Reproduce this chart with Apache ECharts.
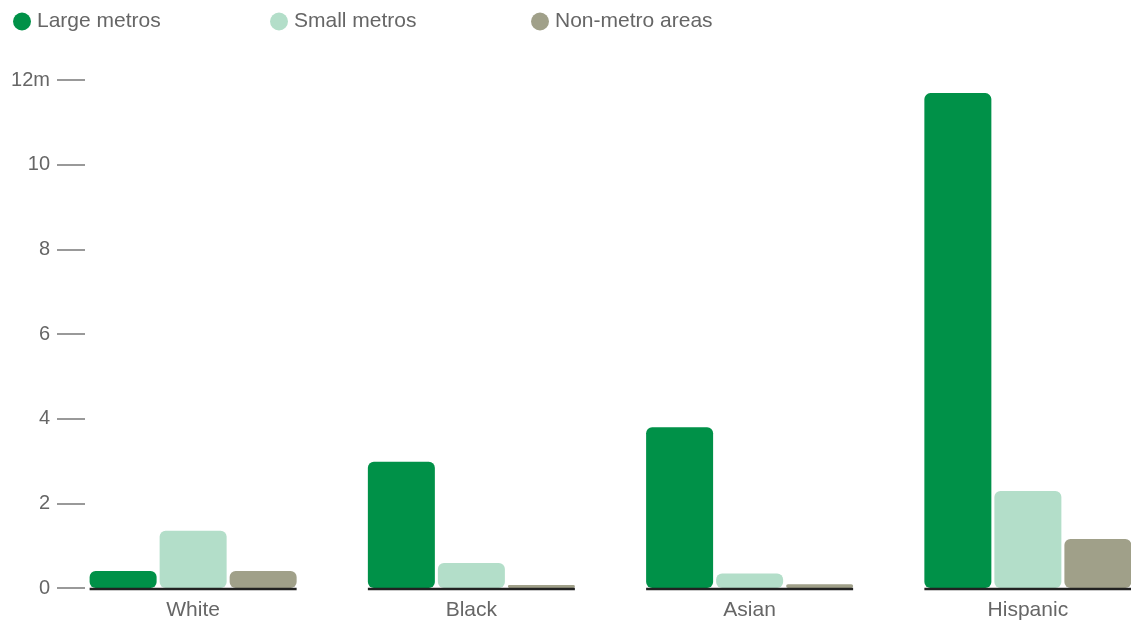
<!DOCTYPE html>
<html>
<head>
<meta charset="utf-8">
<script src="https://cdn.jsdelivr.net/npm/echarts@6/dist/echarts.min.js"></script>
<style>html,body{margin:0;padding:0;background:#fff;overflow:hidden;width:1131px;height:624px;}#chart{width:1167px;height:624px;}</style>
</head>
<body>
<div id="chart"></div>
<script>
const categories = ['White', 'Black', 'Asian', 'Hispanic'];
const largeMetros = [0.40, 2.98, 3.80, 11.69];
const smallMetros = [1.35, 0.59, 0.34, 2.29];
const nonMetro = [0.40, 0.07, 0.09, 1.16];
const yTicks = [0, 2, 4, 6, 8, 10, 12];

const font = 'Liberation Sans, Arial, sans-serif';
const textColor = '#666';
const chart = echarts.init(document.getElementById('chart'));

function legendAt(name, left) {
  return {
    data: [name], left: left, top: 11, icon: 'circle', padding: 0,
    itemWidth: 18, itemHeight: 18, itemGap: 0,
    textStyle: { color: textColor, fontSize: 21, fontFamily: font, padding: [0, 0, 0, 1] },
    selectedMode: false
  };
}

const barStyle = { borderRadius: 6 };

chart.setOption({
  animation: false,
  legend: [legendAt('Large metros', 13), legendAt('Small metros', 270), legendAt('Non-metro areas', 531)],
  grid: { left: 54, right: 0, top: 80, bottom: 36 },
  xAxis: {
    type: 'category', data: categories,
    axisLine: { show: false }, axisTick: { show: false },
    axisLabel: { color: textColor, fontSize: 21, fontFamily: font, margin: 12 }
  },
  yAxis: {
    type: 'value', min: 0, max: 12, interval: 2, offset: -31,
    axisLine: { show: false },
    axisTick: { show: true, length: 28, lineStyle: { color: '#999', width: 2 } },
    splitLine: { show: false },
    axisLabel: {
      color: textColor, fontSize: 20, fontFamily: font, margin: 35,
      formatter: function (v) { return yTicks.indexOf(v) >= 0 ? (v === 12 ? '12m' : String(v)) : ''; }
    }
  },
  series: [
    { name: 'Large metros', type: 'bar', data: largeMetros, barWidth: 67, barGap: '4.5%', itemStyle: Object.assign({ color: '#009148' }, barStyle) },
    { name: 'Small metros', type: 'bar', data: smallMetros, barWidth: 67, barGap: '4.5%', itemStyle: Object.assign({ color: '#b3dec9' }, barStyle) },
    { name: 'Non-metro areas', type: 'bar', data: nonMetro, barWidth: 67, barGap: '4.5%', itemStyle: Object.assign({ color: '#a0a089' }, barStyle) },
    {
      type: 'custom', z: 10, silent: true,
      data: categories.map(function (c, i) { return [i, 0]; }),
      renderItem: function (params, api) {
        const p = api.coord([api.value(0), 0]);
        const band = api.size([1, 0])[0];
        const half = band * 103.5 / 278.25;
        return {
          type: 'line',
          shape: { x1: p[0] - half, y1: p[1] + 1, x2: p[0] + half, y2: p[1] + 1 },
          style: { stroke: '#222', lineWidth: 2.5 }
        };
      }
    }
  ]
});
</script>
</body>
</html>
